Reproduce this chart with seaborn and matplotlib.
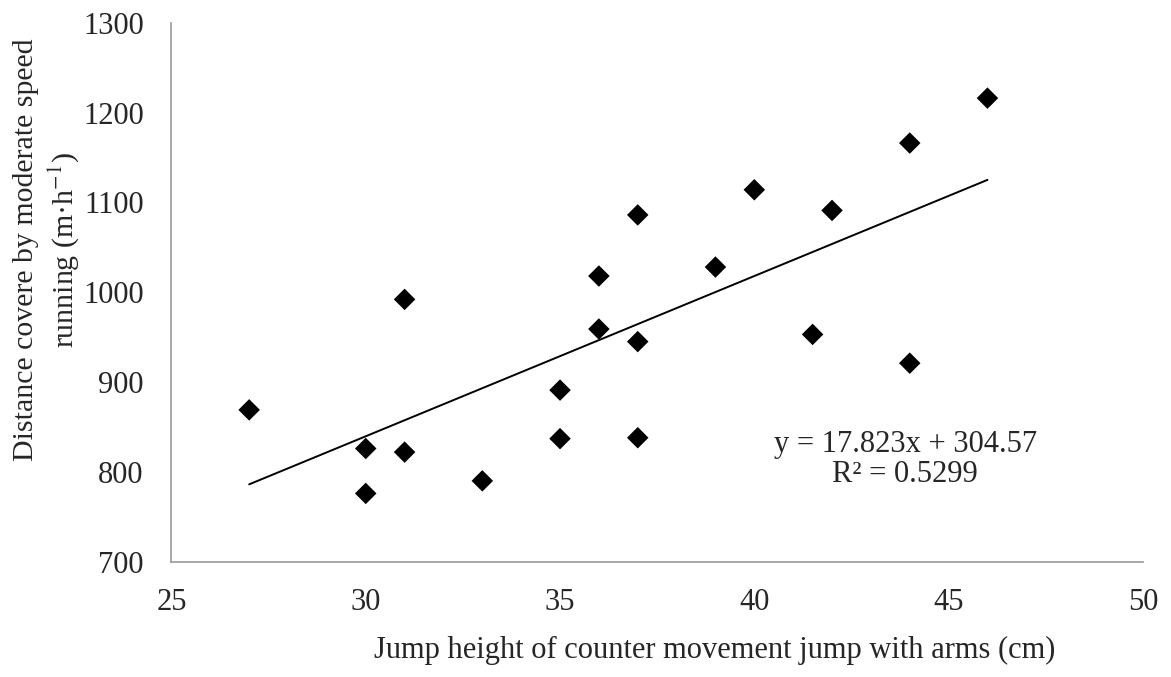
import numpy as np
import pandas as pd
import matplotlib
matplotlib.use("Agg")
import matplotlib.pyplot as plt
import seaborn as sns

# Data
jump_height = [27, 30, 30, 31, 31, 33, 35, 35, 36, 36,
               37, 37, 37, 39, 40, 41.5, 42, 44, 44, 46]
distance = [869, 826, 776, 992, 822, 790, 891, 837, 1018, 959,
            1086, 945, 838, 1028, 1114, 953, 1091, 1166, 921, 1216]
x_ticks = [25, 30, 35, 40, 45, 50]
y_ticks = [700, 800, 900, 1000, 1100, 1200, 1300]
equation = "y = 17.823x + 304.57\nR² = 0.5299"

df = pd.DataFrame({"jump": jump_height, "dist": distance})

sns.set_style("white")
plt.rcParams["font.family"] = ["Liberation Serif", "DejaVu Serif"]
plt.rcParams["mathtext.fontset"] = "stix"

fig = plt.figure(figsize=(11.71, 6.77), dpi=100)
ax = fig.add_axes([0.1464, 0.1703, 0.8296, 0.7962])

# Scatter points
sns.scatterplot(data=df, x="jump", y="dist", marker="D", s=120,
                color="black", edgecolor="none", ax=ax, zorder=3)

# Linear trend line over the data range
sns.regplot(data=df, x="jump", y="dist", scatter=False, ci=None,
            truncate=True, color="black", line_kws={"linewidth": 1.4},
            ax=ax)

ax.set_xlim(25, 50)
ax.set_ylim(700, 1300)
ax.set_xticks(x_ticks)
ax.set_yticks(y_ticks)
ax.tick_params(axis="both", labelsize=22, length=0)
ax.tick_params(axis="x", pad=19)
ax.tick_params(axis="y", pad=20)

ax.set_xlabel("Jump height of counter movement jump with arms (cm)",
              fontsize=22, va="center")
ax.xaxis.set_label_coords(0.5595, -0.165)
ax.set_ylabel("Distance covere by moderate speed\nrunning (m·h$^{-1}$)",
              fontsize=21.5, linespacing=1.25, va="center")
ax.yaxis.set_label_coords(-0.128, 0.578)

for side in ["top", "right"]:
    ax.spines[side].set_visible(False)
for side in ["left", "bottom"]:
    ax.spines[side].set_color("#999999")
    ax.spines[side].set_linewidth(1.2)

ax.text(43.88, 814, equation, fontsize=22, ha="center", va="center",
        linespacing=1.05)

fig.savefig("out.png", dpi=100)
